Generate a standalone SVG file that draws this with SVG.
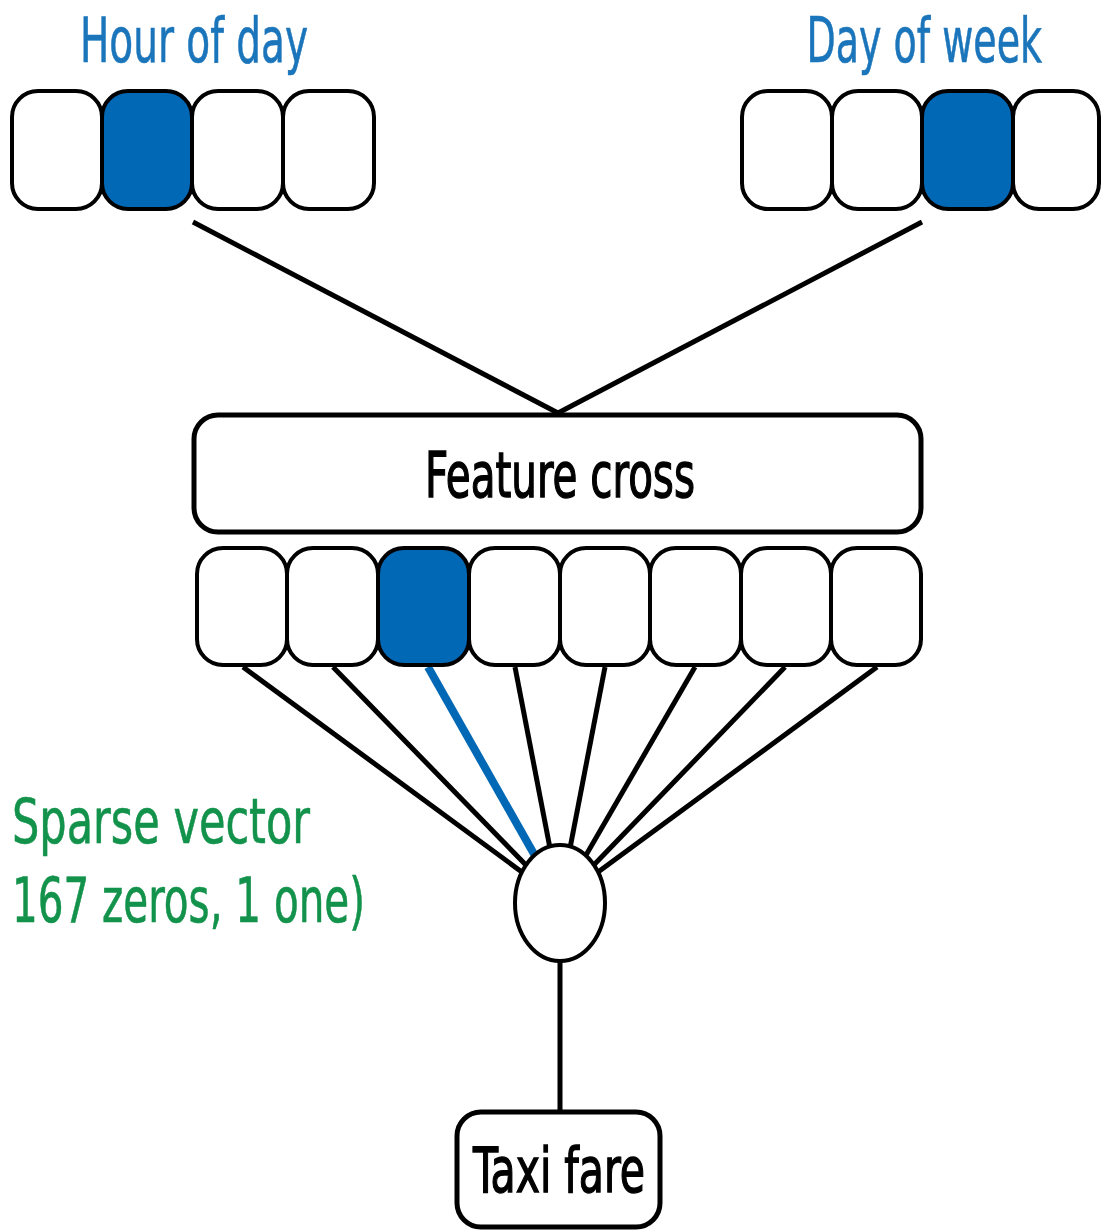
<svg xmlns="http://www.w3.org/2000/svg" width="1101" height="1232" viewBox="0 0 1101 1232">
<style>
.cell{fill:#fff;stroke:#000;stroke-width:4}
.on{fill:#0068b5}
.box{fill:#fff;stroke:#000;stroke-width:5}
.ln{stroke:#000;stroke-width:5;fill:none}
.t{font-family:"DejaVu Sans Condensed","DejaVu Sans",sans-serif;font-size:63px}
.blue{fill:#1b75bb;stroke:#1b75bb;stroke-width:0.6}
.green{fill:#12924b;stroke:#12924b;stroke-width:0.6}
.blk{fill:#000;stroke:#000;stroke-width:1.4}
</style>
<rect width="1101" height="1232" fill="#fff"/>
<g id="connectors">
<line class="ln" x1="193" y1="222" x2="558" y2="413"/>
<line class="ln" x1="922" y1="222" x2="558" y2="413"/>
<line class="ln" x1="243" y1="667" x2="560" y2="900"/>
<line class="ln" x1="333" y1="667" x2="560" y2="900"/>
<line x1="428" y1="667" x2="560" y2="900" stroke="#0068b5" stroke-width="8"/>
<line class="ln" x1="515" y1="667" x2="560" y2="900"/>
<line class="ln" x1="605" y1="667" x2="560" y2="900"/>
<line class="ln" x1="695" y1="667" x2="560" y2="900"/>
<line class="ln" x1="785" y1="667" x2="560" y2="900"/>
<line class="ln" x1="877" y1="667" x2="560" y2="900"/>
<line class="ln" x1="560" y1="960" x2="560" y2="1112"/>
</g>
<g id="hour-of-day">
<text class="t blue" x="80" y="62" textLength="228" lengthAdjust="spacingAndGlyphs">Hour of day</text>
<rect class="cell" x="12" y="91" width="90" height="118" rx="26"/>
<rect class="cell on" x="102" y="91" width="90" height="118" rx="26"/>
<rect class="cell" x="192" y="91" width="91" height="118" rx="26"/>
<rect class="cell" x="283" y="91" width="91" height="118" rx="26"/>
</g>
<g id="day-of-week">
<text class="t blue" transform="translate(1042,62) scale(0.67,1)" x="0" y="0" text-anchor="end">Day of week</text>
<rect class="cell" x="742" y="91" width="90" height="118" rx="26"/>
<rect class="cell" x="832" y="91" width="90" height="118" rx="26"/>
<rect class="cell on" x="922" y="91" width="91" height="118" rx="26"/>
<rect class="cell" x="1013" y="91" width="86" height="118" rx="26"/>
</g>
<g id="feature-cross">
<rect class="box" x="194" y="415" width="727" height="117" rx="24"/>
<text class="t blk" x="425" y="497" textLength="270" lengthAdjust="spacingAndGlyphs">Feature cross</text>
</g>
<g id="sparse-cells">
<rect class="cell" x="197" y="548" width="90" height="117" rx="26"/>
<rect class="cell" x="287" y="548" width="91" height="117" rx="26"/>
<rect class="cell on" x="378" y="548" width="91" height="117" rx="26"/>
<rect class="cell" x="469" y="548" width="91" height="117" rx="26"/>
<rect class="cell" x="560" y="548" width="90" height="117" rx="26"/>
<rect class="cell" x="650" y="548" width="91" height="117" rx="26"/>
<rect class="cell" x="741" y="548" width="90" height="117" rx="26"/>
<rect class="cell" x="831" y="548" width="90" height="117" rx="26"/>
</g>
<g id="sparse-label">
<text class="t green" x="12" y="843" textLength="298" lengthAdjust="spacingAndGlyphs">Sparse vector</text>
<text class="t green" x="12" y="922" textLength="353" lengthAdjust="spacingAndGlyphs">167 zeros, 1 one)</text>
</g>
<g id="neuron">
<ellipse cx="560" cy="903" rx="45" ry="58" fill="#fff" stroke="#000" stroke-width="4"/>
</g>
<g id="taxi-fare">
<rect class="box" x="457" y="1112" width="203" height="115" rx="24"/>
<text class="t blk" x="473" y="1192" textLength="172" lengthAdjust="spacingAndGlyphs">Taxi fare</text>
</g>
</svg>
